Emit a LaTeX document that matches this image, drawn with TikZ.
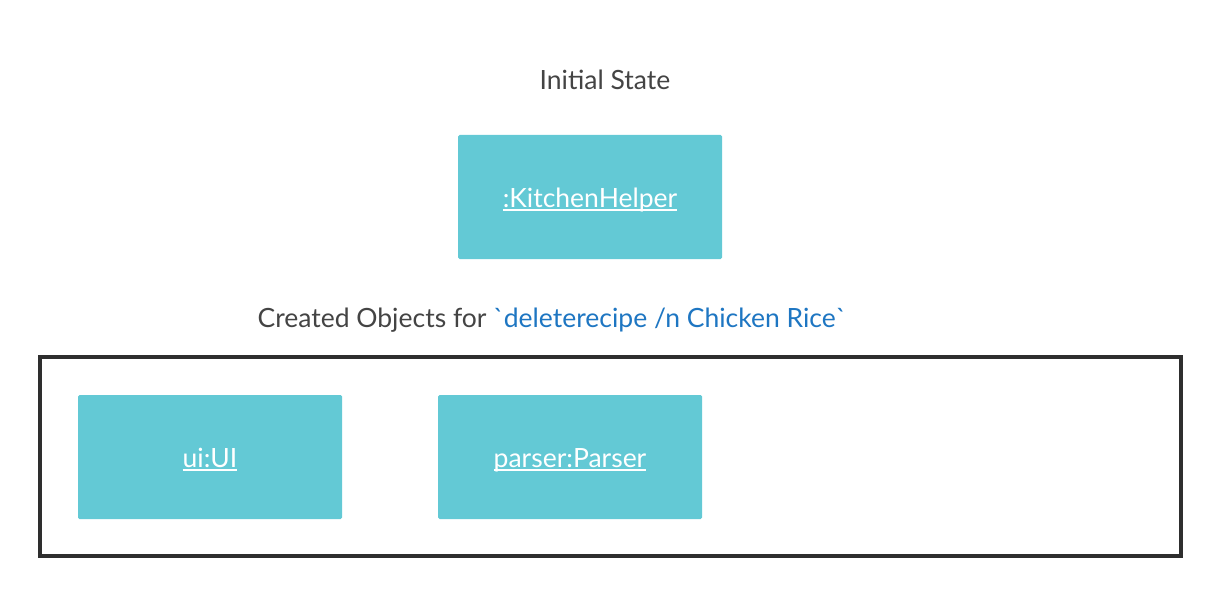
\documentclass[tikz,border=0pt]{standalone}
\usepackage{fontspec}
\setmainfont{Lato}
\newfontfamily\cmdfont{Lato}[Ligatures=TeXOff]
\usepackage{xcolor}
\usetikzlibrary{positioning}
\definecolor{objfill}{HTML}{63C9D5}
\definecolor{labelgrey}{HTML}{444444}
\definecolor{cmdblue}{HTML}{1E76C2}
\definecolor{framegrey}{HTML}{2E2E2E}
\newcommand{\objname}[1]{\setbox0\hbox{#1}\rlap{\smash{\rule[-4pt]{\wd0}{2pt}}}\box0}

\begin{document}
\begin{tikzpicture}[x=1pt,y=-1pt,
                    obj/.style={rectangle,fill=objfill,rounded corners=1.5pt,minimum width=264pt,minimum height=124pt,
                                text=white,text height=20pt,text depth=0pt,font=\fontsize{26.5}{30}\selectfont},
                    title/.style={text=labelgrey,font=\fontsize{26.5}{30}\selectfont}]

        \useasboundingbox (0,0) rectangle (1210,599);

        \node[title] (init) at (605,80) {Initial State};
        \node[obj] (kh) at (590,197) {\objname{:KitchenHelper}};

        \node[title] (created) at (552,320) {Created Objects for {\cmdfont\color{cmdblue}`deleterecipe /n Chicken Rice`}};
        \draw[framegrey,line width=4pt] (40,357) rectangle (1181,556);

        \node[obj] (ui) at (210,457) {\objname{ui:UI}};
        \node[obj] (parser) at (570,457) {\objname{parser:Parser}};
\end{tikzpicture}
\end{document}
